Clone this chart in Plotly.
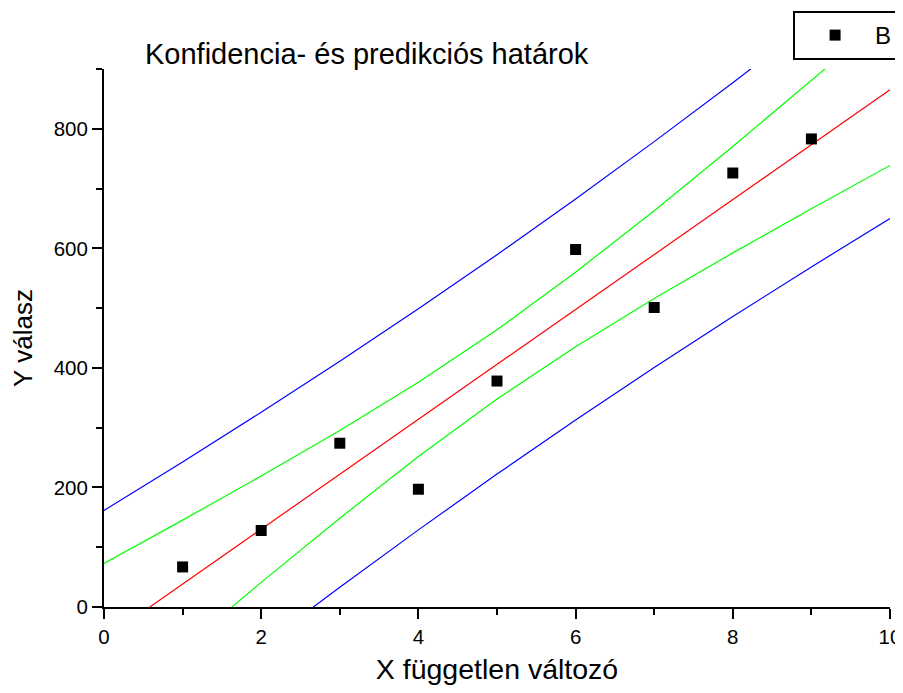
import plotly.graph_objects as go

# Measured data points
x_pts = [1, 2, 3, 4, 5, 6, 7, 8, 9]
y_pts = [67, 128, 274, 197, 378, 598, 501, 726, 783]

# Fitted line and bands read along the x axis
x_fit = [0, 1, 2, 3, 4, 5, 6, 7, 8, 9, 10]
fit_line = [-53.6, 38.3, 130.2, 222.0, 313.9, 405.8, 497.7, 589.6, 681.4, 773.3, 865.2]
conf_upper = [72.9, 145.3, 219.2, 295.4, 376.1, 463.8, 559.9, 663.0, 770.4, 880.3, 991.7]
conf_lower = [-180.1, -68.7, 41.2, 148.6, 251.7, 347.8, 435.5, 516.2, 592.4, 666.3, 738.7]
pred_upper = [161.6, 242.7, 325.7, 410.9, 498.8, 589.3, 682.6, 778.5, 876.9, 977.7, 1080.4]
pred_lower = [-268.8, -166.1, -65.3, 33.1, 129.0, 222.3, 312.8, 400.7, 485.9, 568.9, 650.0]

x_ticks = [0, 2, 4, 6, 8, 10]
y_ticks = [0, 200, 400, 600, 800]

FONT = "Liberation Sans, Arial, sans-serif"

fig = go.Figure()

for ys, col in [(pred_upper, "#0000FF"), (pred_lower, "#0000FF"),
                (conf_upper, "#00FF00"), (conf_lower, "#00FF00"),
                (fit_line, "#FF0000")]:
    fig.add_trace(go.Scatter(x=x_fit, y=ys, mode="lines",
                             line=dict(color=col, width=1.2),
                             showlegend=False, hoverinfo="skip"))

fig.add_trace(go.Scatter(x=x_pts, y=y_pts, mode="markers", name="B",
                         marker=dict(symbol="square", size=11, color="black")))

axis_common = dict(
    showline=True, linecolor="black", linewidth=2,
    ticks="outside", ticklen=10, tickwidth=2, tickcolor="black",
    showgrid=False, zeroline=False, mirror=False,
    tickfont=dict(family=FONT, size=20.5, color="black"),
)

fig.update_xaxes(range=[0, 10], tickvals=x_ticks, ticktext=[str(v) for v in x_ticks],
                 minor=dict(ticks="outside", ticklen=6, tickwidth=2, tickcolor="black",
                            dtick=1, tick0=0, showgrid=False),
                 title=dict(text="X független változó",
                            font=dict(family=FONT, size=28.5, color="black"), standoff=18),
                 ticklabelstandoff=0,
                 **axis_common)
fig.update_yaxes(range=[0, 900], tickvals=y_ticks, ticktext=[str(v) for v in y_ticks],
                 minor=dict(ticks="outside", ticklen=6, tickwidth=2, tickcolor="black",
                            dtick=100, tick0=0, showgrid=False),
                 title=dict(text="Y válasz",
                            font=dict(family=FONT, size=26, color="black"), standoff=16),
                 ticklabelstandoff=0,
                 **axis_common)

fig.add_annotation(text="Konfidencia- és predikciós határok",
                   xref="paper", yref="paper", x=0.049, y=1.0284,
                   xanchor="left", yanchor="middle", showarrow=False,
                   font=dict(family=FONT, size=29, color="black"))

fig.update_layout(
    width=903, height=677,
    margin=dict(l=95.5, r=21, t=61.3, b=78, autoexpand=False),
    plot_bgcolor="white", paper_bgcolor="white",
    font=dict(family=FONT, color="black"),
    legend=dict(x=0.8767, y=1.1078, xanchor="left", yanchor="top",
                bordercolor="black", borderwidth=2, bgcolor="white",
                font=dict(family=FONT, size=24, color="black"),
                itemwidth=70),
    showlegend=True,
)

fig.write_html("out.html")
